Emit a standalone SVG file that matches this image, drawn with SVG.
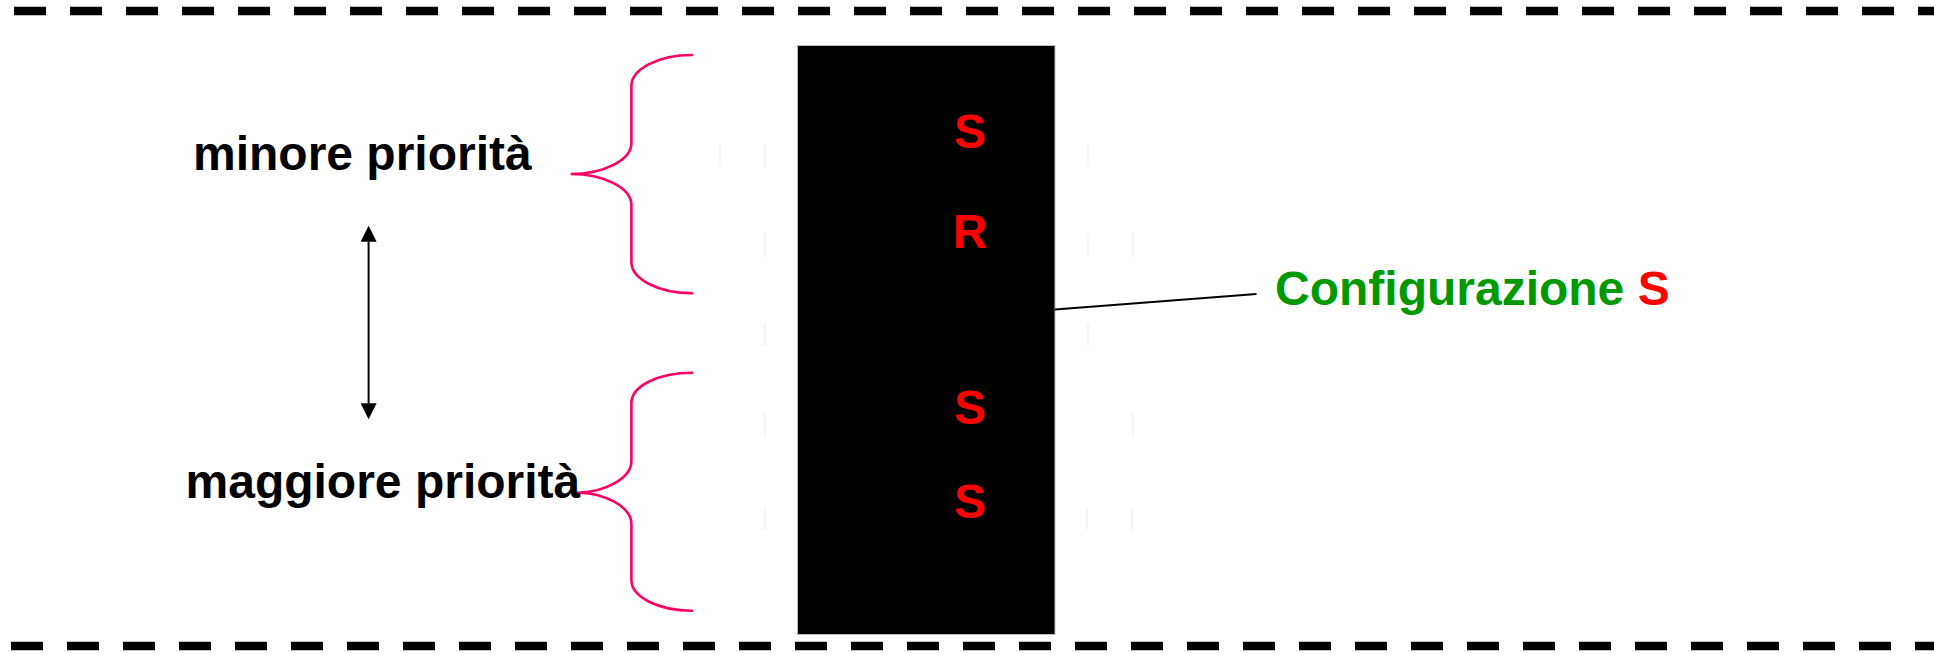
<svg xmlns="http://www.w3.org/2000/svg" width="1934" height="655" viewBox="0 0 1934 655">
  <style>
    .border { stroke: #000; stroke-width: 8.5; stroke-dasharray: 32 24; fill: none; }
    .brace { stroke: #ff0066; stroke-width: 2.6; fill: none; stroke-linecap: round; }
    .label { font-family: "Liberation Sans", Arial, sans-serif; font-weight: bold; font-size: 48px; }
    .cell { font-family: "Liberation Sans", Arial, sans-serif; font-weight: bold; font-size: 48px; fill: #ff0000; text-anchor: middle; }
    .ghost { stroke: #efefef; stroke-width: 1.2; }
    .link { stroke: #000; stroke-width: 2; fill: none; }
  </style>
  <defs>
    <marker id="tip" markerUnits="userSpaceOnUse" markerWidth="16" markerHeight="16" viewBox="0 0 15 15" refX="0" refY="7.5" orient="auto-start-reverse">
      <path d="M0,0 L15,7.5 L0,15 z" fill="#000"/>
    </marker>
  </defs>
  <rect width="1934" height="655" fill="#fff"/>

  <!-- dashed top and bottom borders -->
  <g id="borders">
    <line class="border" x1="14" y1="11" x2="1934" y2="11"/>
    <line class="border" x1="11" y1="646" x2="1934" y2="646"/>
  </g>

  <!-- faint leftover cell rules -->
  <g id="rules">
    <line class="ghost" x1="720" y1="144" x2="720" y2="167"/>
    <line class="ghost" x1="765" y1="144" x2="765" y2="167"/>
    <line class="ghost" x1="765" y1="233" x2="765" y2="257"/>
    <line class="ghost" x1="765" y1="323" x2="765" y2="346"/>
    <line class="ghost" x1="765" y1="413" x2="765" y2="436"/>
    <line class="ghost" x1="765" y1="508" x2="765" y2="530"/>
    <line class="ghost" x1="1088" y1="144" x2="1088" y2="167"/>
    <line class="ghost" x1="1088" y1="233" x2="1088" y2="257"/>
    <line class="ghost" x1="1133" y1="233" x2="1133" y2="257"/>
    <line class="ghost" x1="1088" y1="323" x2="1088" y2="346"/>
    <line class="ghost" x1="1133" y1="413" x2="1133" y2="436"/>
    <line class="ghost" x1="1087" y1="508" x2="1087" y2="530"/>
    <line class="ghost" x1="1132" y1="508" x2="1132" y2="530"/>
  </g>

  <!-- stack column -->
  <g id="stack">
    <rect x="797.5" y="45.5" width="257.5" height="589" fill="#000" stroke="#bbb" stroke-width="1"/>
    <text class="cell" x="970" y="147.5">S</text>
    <text class="cell" x="970" y="248">R</text>
    <text class="cell" x="970" y="424">S</text>
    <text class="cell" x="970" y="518">S</text>
  </g>

  <!-- braces -->
  <g id="brace-low">
    <path class="brace" d="M692,55 C658.5,55 631.4,69 631.4,86 L631.4,143 C631.4,160 604,174 570.7,174 C604,174 631.4,188 631.4,205 L631.4,262 C631.4,279 658.5,293.3 692,293.3"/>
  </g>
  <g id="brace-high">
    <path class="brace" d="M692,372.7 C658.5,372.7 631.4,386 631.4,403 L631.4,461 C631.4,478 605,492.7 577,492.7 C605,492.7 631.4,507 631.4,524 L631.4,580 C631.4,597 658.5,610.7 692,610.7"/>
  </g>

  <!-- labels -->
  <g id="label-low">
    <text class="label" x="193" y="170" fill="#000">minore priorità</text>
  </g>
  <g id="label-high">
    <text class="label" x="185.5" y="498.3" fill="#000">maggiore priorità</text>
  </g>
  <g id="label-config">
    <text class="label" x="1275" y="305" fill="#009900">Configurazione <tspan fill="#ff0000">S</tspan></text>
  </g>

  <!-- connectors -->
  <g id="connectors">
    <line class="link" x1="368.6" y1="241.7" x2="368.6" y2="403.3" marker-start="url(#tip)" marker-end="url(#tip)"/>
    <line class="link" x1="1055" y1="309.5" x2="1256.5" y2="294"/>
  </g>
</svg>
